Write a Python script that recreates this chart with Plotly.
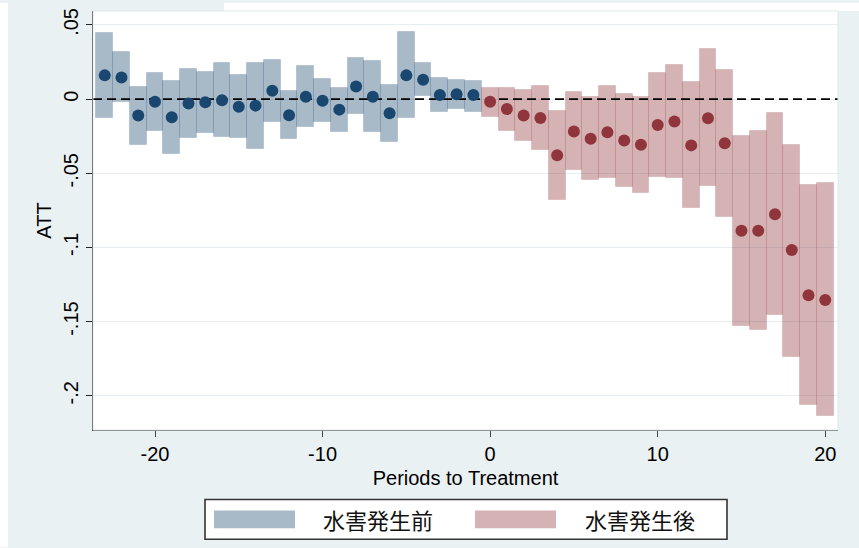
import plotly.graph_objects as go

# ---------------- data ----------------
pre_periods = list(range(-23, 0))
pre_att = [0.016, 0.0145, -0.0111, -0.0018, -0.0122, -0.0029, -0.0022, -0.0007, -0.0051, -0.0044,
           0.0056, -0.0109, 0.0016, -0.0011, -0.0071, 0.0085, 0.0016, -0.0096, 0.016, 0.013,
           0.0027, 0.0033, 0.0027]
pre_upper = [0.0446, 0.032, 0.0083, 0.0174, 0.0123, 0.0201, 0.0185, 0.0246, 0.0163, 0.0246,
             0.0264, 0.0052, 0.0224, 0.0134, 0.0074, 0.0274, 0.0257, 0.0094, 0.0451, 0.0241,
             0.0139, 0.0127, 0.0123]
pre_lower = [-0.0129, -0.0022, -0.0312, -0.0212, -0.0368, -0.0261, -0.023, -0.0256, -0.0263, -0.0335,
             -0.0151, -0.0268, -0.019, -0.0151, -0.0223, -0.010, -0.0223, -0.029, -0.0129, 0.0023,
             -0.0089, -0.0067, -0.0084]

post_periods = list(range(0, 21))
post_att = [-0.0018, -0.0067, -0.0111, -0.0127, -0.0379, -0.0218, -0.0268, -0.0223, -0.0279, -0.0308,
            -0.0174, -0.0151, -0.0312, -0.0129, -0.0297, -0.0888, -0.0888, -0.0776, -0.1018, -0.1323,
            -0.1354]
post_upper = [0.0078, 0.0072, 0.006, 0.009, -0.0078, 0.0045, 0.0011, 0.009, 0.0033, 0.0016,
              0.0174, 0.0228, 0.0112, 0.0335, 0.0194, -0.025, -0.0218, -0.0096, -0.0308, -0.0576,
              -0.0569]
post_lower = [-0.0118, -0.0212, -0.0285, -0.0341, -0.068, -0.0479, -0.0546, -0.0535, -0.0591, -0.0631,
              -0.0524, -0.0531, -0.0732, -0.0586, -0.0792, -0.1528, -0.1557, -0.1454, -0.1736, -0.2064,
              -0.2137]

legend_labels = ["水害発生前", "水害発生後"]
x_tick_vals = [-20, -10, 0, 10, 20]
x_tick_text = ["-20", "-10", "0", "10", "20"]
y_tick_vals = [0.05, 0, -0.05, -0.1, -0.15, -0.2]
y_tick_text = [".05", "0", "-.05", "-.1", "-.15", "-.2"]
x_title = "Periods to Treatment"
y_title = "ATT"

X_RANGE = [-23.7, 20.76]
Y_RANGE = [-0.2231, 0.0594]

# ---------------- styles ----------------
NAVY = "#1a476f"
MAROON = "#90353b"
PRE_FILL = "rgba(26,71,111,0.38)"
PRE_EDGE = "rgba(26,71,111,0.16)"
POST_FILL = "rgba(144,53,59,0.38)"
POST_EDGE = "rgba(144,53,59,0.16)"
BG = "#eaf1f3"
FONT = "Liberation Sans, Arial, sans-serif"
CJK = "Noto Sans CJK JP"

fig = go.Figure()

fig.add_trace(go.Bar(
    x=pre_periods,
    y=[u - l for u, l in zip(pre_upper, pre_lower)],
    base=pre_lower, width=1,
    marker=dict(color=PRE_FILL, line=dict(color=PRE_EDGE, width=1)),
    showlegend=False, hoverinfo="skip"))
fig.add_trace(go.Bar(
    x=post_periods,
    y=[u - l for u, l in zip(post_upper, post_lower)],
    base=post_lower, width=1,
    marker=dict(color=POST_FILL, line=dict(color=POST_EDGE, width=1)),
    showlegend=False, hoverinfo="skip"))

# zero reference line (between bars and dots)
fig.add_trace(go.Scatter(
    x=X_RANGE, y=[0, 0], mode="lines",
    line=dict(color="black", width=1.6, dash="9px,5px"),
    showlegend=False, hoverinfo="skip"))

fig.add_trace(go.Scatter(
    x=pre_periods, y=pre_att, mode="markers",
    marker=dict(color=NAVY, size=12),
    showlegend=False))
fig.add_trace(go.Scatter(
    x=post_periods, y=post_att, mode="markers",
    marker=dict(color=MAROON, size=12),
    showlegend=False))

# ---------------- layout ----------------
L, R, T, B = 93, 21, 8, 118
W, H = 859, 548
PW, PH = W - L - R, H - T - B


def px(xpix):
    return (xpix - L) / PW


def py(ypix):
    return (H - B - ypix) / PH


shapes = [
    # white strips of the screenshot outside the graph region
    dict(type="rect", xref="paper", yref="paper", x0=px(0), x1=px(8), y0=py(H), y1=py(0),
         fillcolor="white", line=dict(width=0), layer="above"),
    dict(type="rect", xref="paper", yref="paper", x0=px(224), x1=px(W), y0=py(8), y1=py(0),
         fillcolor="white", line=dict(width=0), layer="above"),
    # faint plot-region outline
    dict(type="rect", xref="paper", yref="paper", x0=0, x1=1, y0=0, y1=1,
         fillcolor="rgba(0,0,0,0)", line=dict(color="#dde7ea", width=1), layer="above"),
    # legend box
    dict(type="rect", xref="paper", yref="paper", x0=px(205), x1=px(727), y0=py(540), y1=py(500),
         fillcolor="white", line=dict(color="#333333", width=1.6)),
    # legend swatches
    dict(type="rect", xref="paper", yref="paper", x0=px(214), x1=px(295), y0=py(529), y1=py(511),
         fillcolor=PRE_FILL, line=dict(width=0)),
    dict(type="rect", xref="paper", yref="paper", x0=px(475), x1=px(556), y0=py(529), y1=py(511),
         fillcolor=POST_FILL, line=dict(width=0)),
]

annotations = [
    dict(text=legend_labels[0], xref="paper", yref="paper", x=px(378), y=py(520),
         showarrow=False, font=dict(family=CJK, size=22, color="#111"), xanchor="center", yanchor="middle"),
    dict(text=legend_labels[1], xref="paper", yref="paper", x=px(640), y=py(520),
         showarrow=False, font=dict(family=CJK, size=22, color="#111"), xanchor="center", yanchor="middle"),
]

fig.update_layout(
    width=W, height=H,
    margin=dict(l=L, r=R, t=T, b=B, pad=0),
    paper_bgcolor=BG, plot_bgcolor="white",
    barmode="overlay", bargap=0,
    font=dict(family=FONT, size=21, color="black"),
    shapes=shapes, annotations=annotations,
    xaxis=dict(
        range=X_RANGE, tickmode="array", tickvals=x_tick_vals, ticktext=x_tick_text,
        ticks="outside", ticklen=6, tickwidth=1.3, tickcolor="#444",
        showline=True, linecolor="#444", linewidth=1.3,
        showgrid=False, zeroline=False,
        tickfont=dict(size=20),
        title=dict(text=x_title, font=dict(size=20), standoff=6),
    ),
    yaxis=dict(
        range=Y_RANGE, tickmode="array", tickvals=y_tick_vals, ticktext=y_tick_text,
        tickangle=-90,
        ticks="outside", ticklen=6, tickwidth=1.3, tickcolor="#222",
        showline=True, linecolor="#111", linewidth=1.3,
        showgrid=True, gridcolor="#e6eef1", gridwidth=1.2,
        zeroline=False,
        tickfont=dict(size=20),
        title=dict(text=y_title, font=dict(size=20), standoff=2),
    ),
)

fig.write_html("out.html")
